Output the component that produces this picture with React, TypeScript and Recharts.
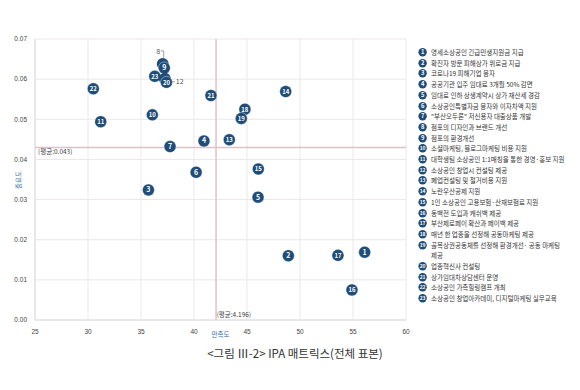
import { ScatterChart, Scatter, XAxis, YAxis, CartesianGrid, ReferenceLine } from 'recharts';

const ids = [22, 11, 8, 9, 23, 12, 20, 21, 10, 7, 4, 14, 18, 19, 13, 3, 6, 15, 5, 2, 17, 1, 16];
const satisfaction = [30.5, 31.2, 37.05, 37.2, 36.3, 37.25, 37.4, 41.6, 36.07, 37.74, 40.94, 48.65, 44.8, 44.46, 43.33, 35.7, 40.2, 46.07, 46.04, 48.9, 53.58, 56.1, 54.9];
const importance = [0.0576, 0.0494, 0.0638, 0.0628, 0.0607, 0.0601, 0.0592, 0.0559, 0.0511, 0.0432, 0.0446, 0.0569, 0.0525, 0.0502, 0.0449, 0.0324, 0.0368, 0.0376, 0.0306, 0.016, 0.0161, 0.0169, 0.0075];

const xTicks = [25, 30, 35, 40, 45, 50, 55, 60];
const yTicks = [0, 0.01, 0.02, 0.03, 0.04, 0.05, 0.06, 0.07];
const meanX = 42.08;
const meanY = 0.043;

const legendItems = [
  '영세소상공인 긴급민생지원금 지급',
  '확진자 방문 피해상가 위로금 지급',
  '코로나19 피해기업 융자',
  '공공기관 입주 임대료 3개월 50% 감면',
  '임대료 인하 상생계약시 상가 재산세 경감',
  '소상공인특별자금 융자와 이자차액 지원',
  '"부산오두론" 저신용자 대출상품 개발',
  '점포의 디자인과 브랜드 개선',
  '점포의 환경개선',
  '소셜마케팅, 블로그마케팅 비용 지원',
  '대학생팀 소상공인 1:1매칭을 통한 경영·홍보 지원',
  '소상공인 창업시 컨설팅 제공',
  '폐업컨설팅 및 철거비용 지원',
  '노란우산공제 지원',
  '1인 소상공인 고용보험·산재보험료 지원',
  '동백전 도입과 캐쉬백 제공',
  '부산제로페이 확산과 페이백 제공',
  '매년 한 업종을 선정해 공동마케팅 제공',
  '골목상권공동체를 선정해 환경개선· 공동 마케팅\n제공',
  '업종혁신사 컨설팅',
  '상가임대차상담센터 운영',
  '소상공인 가족힐링캠프 개최',
  '소상공인 창업아카데미, 디지털마케팅 실무교육',
];

const points = ids.map((id, i) => ({ id, x: satisfaction[i], y: importance[i] }));

const NAVY = '#1f4d78';
const FONT = '"Noto Sans CJK KR", "Noto Sans", sans-serif';

function Dot(props: any) {
  const { cx, cy, payload } = props;
  if (cx == null || cy == null) return null;
  const id = payload.id;
  if (id === 8) {
    return (
      <g>
        <circle cx={cx} cy={cy} r={6} fill={NAVY} />
        <path d={`M${cx - 2} ${cy - 13}H${cx + 1}V${cy - 6}`} stroke="#777" strokeWidth={0.7} fill="none" />
        <text x={cx - 4.5} y={cy - 10} fontSize={7} fill="#555" textAnchor="middle" fontFamily={FONT}>8</text>
      </g>
    );
  }
  if (id === 12) {
    return (
      <g>
        <circle cx={cx} cy={cy} r={6} fill={NAVY} />
        <line x1={cx + 6} y1={cy + 3} x2={cx + 10} y2={cy + 3} stroke="#777" strokeWidth={0.7} />
        <text x={cx + 11} y={cy + 5.5} fontSize={7} fill="#555" fontFamily={FONT}>12</text>
      </g>
    );
  }
  return (
    <g>
      <circle cx={cx} cy={cy} r={6} fill={NAVY} stroke="#fff" strokeWidth={0.4} />
      <text x={cx} y={cy + 2.4} fontSize={id >= 10 ? 6 : 7} fontWeight="bold" fill="#fff" textAnchor="middle" fontFamily={FONT}>{id}</text>
    </g>
  );
}

export default function App() {
  return (
    <div style={{ position: 'absolute', left: 0, top: 0, width: 580, height: 390, background: '#fff', fontFamily: FONT }}>
      <ScatterChart width={580} height={390} margin={{ top: 39, right: 174, bottom: 50, left: 5 }}>
        <CartesianGrid stroke="#ebe7e9" strokeWidth={1} horizontalValues={yTicks} verticalValues={xTicks} />
        <XAxis
          type="number"
          dataKey="x"
          domain={[25, 60]}
          ticks={xTicks}
          height={20}
          tickLine={false}
          axisLine={{ stroke: '#ddd' }}
          tick={{ fontSize: 6.5, fill: '#444', fontFamily: 'Liberation Sans' }}
          tickMargin={3}
          label={{ value: '만족도', position: 'bottom', offset: -8, fontSize: 6.5, fill: '#3a6ea8', fontFamily: FONT }}
        />
        <YAxis
          type="number"
          dataKey="y"
          domain={[0, 0.07]}
          ticks={yTicks}
          width={30}
          tickLine={false}
          axisLine={{ stroke: '#ddd' }}
          tick={{ fontSize: 6.5, fill: '#444', fontFamily: 'Liberation Sans' }}
          tickFormatter={(v: number) => v.toFixed(2)}
          label={{
            content: () => (
              <text x={21} y={180} transform="rotate(-90 21 180)" textAnchor="middle" fontSize={6.5} fill="#3a6ea8" fontFamily={FONT}>중요도</text>
            ),
          }}
        />
        <ReferenceLine
          y={meanY}
          stroke="#dcc2c8"
          strokeWidth={1.5}
          label={{ value: '(평균:0.043)', position: 'insideBottomLeft', offset: 3, dy: 10, fontSize: 6.5, fill: '#444', fontFamily: FONT }}
        />
        <ReferenceLine
          x={meanX}
          stroke="#dcc2c8"
          strokeWidth={1.5}
          label={{ value: '(평균:4.196)', position: 'insideBottomRight', offset: 3, dx: 38, fontSize: 6.5, fill: '#444', fontFamily: FONT }}
        />
        <Scatter data={points} shape={Dot} isAnimationActive={false} />
      </ScatterChart>

      <div style={{ position: 'absolute', left: 418, top: 47, width: 160 }}>
        {legendItems.map((label, i) => (
          <div key={i} style={{ display: 'flex', alignItems: 'flex-start', lineHeight: '10.7px', fontSize: 6.5, color: '#333' }}>
            <svg width={11} height={10.7} style={{ flex: 'none' }}>
              <circle cx={4.6} cy={5.3} r={4.2} fill={NAVY} />
              <text x={4.6} y={7.3} textAnchor="middle" fontSize={i >= 9 ? 5 : 5.8} fontWeight="bold" fill="#fff" fontFamily={FONT}>{i + 1}</text>
            </svg>
            <span style={{ marginLeft: 2, whiteSpace: 'pre-line', width: 146 }}>{label}</span>
          </div>
        ))}
      </div>

      <div style={{ position: 'absolute', left: 0, width: 590, top: 345, textAlign: 'center', fontSize: 11.5, color: '#333' }}>
        &lt;그림 Ⅲ-2&gt; IPA 매트릭스(전체 표본)
      </div>
    </div>
  );
}
